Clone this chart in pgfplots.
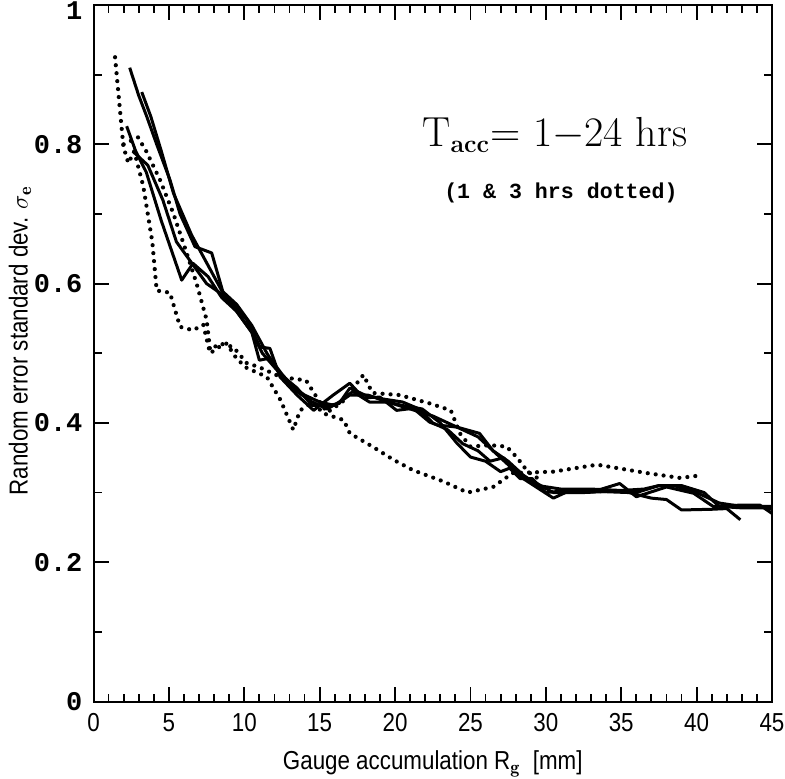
\documentclass[border=0pt]{standalone}
\usepackage{fontspec}
\usepackage{pgfplots}
\pgfplotsset{compat=1.18}
\usetikzlibrary{calc}
\newfontfamily\narrowsans[FakeStretch=0.86]{Liberation Sans}
\newfontfamily\monob{Liberation Mono Bold}

\begin{document}
\begin{tikzpicture}
\begin{axis}[
    name=ax,
    scale only axis,
    width=339.25pt, height=348.25pt,
    xmin=0, xmax=45, ymin=0, ymax=1,
    xtick={0,5,...,45},
    ytick={0,0.2,0.4,0.6,0.8,1},
    yticklabels={0,0.2,0.4,0.6,0.8,\smash{\raisebox{-3pt}{1}}\vphantom{1}},
    minor x tick num=4,
    minor y tick num=1,
    tick align=inside,
    major tick length=7.5pt,
    minor tick length=4pt,
    axis line style={line width=1pt},
    every tick/.style={black, line width=0.9pt},
    /pgf/number format/assume math mode=true,
    xticklabel style={font=\narrowsans\fontsize{13}{13}\selectfont, yshift=-2.5pt},
    yticklabel style={font=\monob\fontsize{13.5}{14}\selectfont, xshift=-2pt},
    every axis x label/.style={at={(axis description cs:0.5,0)}, anchor=base, yshift=-34pt},
    every axis y label/.style={at={(axis description cs:0,0.518)}, xshift=-36.75pt, rotate=90, anchor=center},
    xlabel={\narrowsans\fontsize{13}{13}\selectfont Gauge accumulation R$_{\mathbf{g}}$\ \ [mm]},
    ylabel={\narrowsans\fontsize{13}{13}\selectfont Random error standard dev. $\sigma_{\mathbf{e}}$},
    solid/.style={black, line width=1.5pt, line join=round},
    dots/.style={black, line width=2.1pt, line cap=round, dash pattern=on 0pt off 4pt},
]

% solid curves (6-24 hrs)
\addplot[solid] coordinates {
(2.4,0.91) (3.0,0.87) (3.53,0.84) (4.19,0.80) (5.07,0.749) (5.74,0.70)
(6.73,0.653) (7.84,0.644) (8.61,0.586) (9.5,0.565) (10.16,0.548) (11.04,0.509)
(11.7,0.507) (12.37,0.466) (13.5,0.44) (14.6,0.418) (15.3,0.43) (15.9,0.44)
(17.0,0.457) (17.9,0.436) (19.0,0.437) (20.1,0.418) (21.2,0.421) (22.3,0.401)
(22.8,0.397) (24.1,0.394) (25.6,0.385) (26.5,0.36) (27.5,0.34) (28.5,0.32)
(30.5,0.292) (31.4,0.301) (33.1,0.301) (34.9,0.313) (36.0,0.294) (38.0,0.308)
(39.8,0.299) (41.1,0.280) (42.9,0.282) (44.2,0.282) (45,0.27)
};
\addplot[solid] coordinates {
(2.2,0.826) (2.8,0.79) (3.5,0.76) (4.5,0.69) (5.85,0.605) (6.6,0.629)
(7.6,0.61) (8.5,0.58) (9.5,0.56) (10.5,0.53) (11.0,0.49) (11.7,0.493)
(12.5,0.47) (13.5,0.445) (14.5,0.43) (15.5,0.42) (16.3,0.43) (17.2,0.445)
(18.3,0.43) (19.5,0.43) (20.5,0.425) (21.8,0.42) (23,0.40) (24.1,0.371)
(25.0,0.351) (26.0,0.345) (27.0,0.33) (27.6,0.335) (28.3,0.32) (29.1,0.32)
(30.0,0.30) (31.5,0.303) (33.0,0.302) (35.5,0.30) (37.0,0.292) (38.0,0.29)
(39.0,0.275) (41.0,0.276) (42.0,0.277) (42.9,0.261)
};
\addplot[solid] coordinates {
(3.2,0.875) (3.8,0.84) (4.5,0.79) (5.3,0.73) (6.5,0.67) (7.5,0.63)
(8.5,0.59) (9.5,0.57) (10.5,0.54) (11.5,0.50) (12.4,0.47) (13.5,0.45)
(14.5,0.425) (15.6,0.425) (16.3,0.428) (17.0,0.45) (18,0.44) (19,0.435)
(20.5,0.43) (21.6,0.42) (22.5,0.40) (23.5,0.39) (24.5,0.37) (25.5,0.36)
(26.3,0.345) (27.2,0.35) (28,0.33) (29,0.318) (30.5,0.30) (32.5,0.30)
(34.5,0.302) (36.0,0.30) (37.5,0.31) (39.0,0.31) (40.5,0.30) (41.5,0.28)
(43,0.278) (44.5,0.278) (45,0.276)
};
\addplot[solid] coordinates {
(2.6,0.79) (3.6,0.77) (4.6,0.72) (5.5,0.66) (6.5,0.63) (7.5,0.60)
(8.5,0.585) (9.5,0.56) (10.5,0.53) (11.2,0.50) (12,0.48) (13,0.455)
(14,0.44) (15,0.43) (16,0.425) (17,0.44) (18.2,0.44) (19.5,0.43)
(21,0.42) (22.5,0.41) (23.5,0.40) (24.5,0.39) (25.5,0.38) (26.5,0.36)
(27.5,0.345) (28.5,0.325) (29.5,0.31) (31,0.305) (33,0.305) (35,0.303)
(36.5,0.305) (37.5,0.31) (38.5,0.31) (40,0.30) (41.5,0.285) (43,0.28) (45,0.28)
};

% dotted curves (1 and 3 hrs)
\addplot[dots] coordinates {
(1.43,0.925) (1.98,0.797) (2.31,0.773) (2.7,0.79) (3.3,0.74) (3.9,0.66)
(4.19,0.59) (5.07,0.587) (5.74,0.538) (6.6,0.533) (7.28,0.541) (7.73,0.50)
(8.4,0.51) (8.83,0.514) (9.5,0.492) (10.16,0.479) (11.5,0.466) (12.4,0.433)
(13.25,0.39) (13.7,0.418) (14.6,0.43) (15.2,0.414) (16.6,0.404) (17.0,0.385)
(18.5,0.366) (19.9,0.347) (21.2,0.332) (23.2,0.316) (24.8,0.30) (26.5,0.308)
(27.8,0.328) (30.5,0.33) (33.4,0.34) (36.7,0.328) (38.9,0.321) (40.4,0.325)
};
\addplot[dots] coordinates {
(2.0,0.80) (2.95,0.81) (3.5,0.79) (4.41,0.749) (5.29,0.701) (6.18,0.644)
(6.84,0.60) (7.5,0.548) (7.73,0.505) (8.39,0.514) (9.27,0.509) (10.16,0.486)
(11.0,0.48) (12.4,0.466) (14.1,0.461) (15.0,0.43) (15.5,0.415) (16.5,0.43)
(17.9,0.469) (18.5,0.443) (20.3,0.44) (22.3,0.428) (23.7,0.418) (24.3,0.385)
(25.0,0.366) (26.3,0.368) (27.4,0.366) (28.1,0.35) (28.8,0.33) (29.5,0.32)
};

\node[font=\fontsize{21}{21}\selectfont] at (axis cs:30.6,0.813)
    {T$_{\textbf{\fontsize{12.5}{12.5}\selectfont acc}}$= 1$-$24 hrs};
\node[font=\monob\fontsize{10.8}{11}\selectfont] at (axis cs:31.0,0.73)
    {(1 \& 3 hrs dotted)};
\end{axis}
\pgfresetboundingbox
\path[use as bounding box] ($(ax.south west)+(-46.75pt,-38.25pt)$) rectangle ($(ax.north east)+(6.5pt,2.5pt)$);
\end{tikzpicture}
\end{document}
